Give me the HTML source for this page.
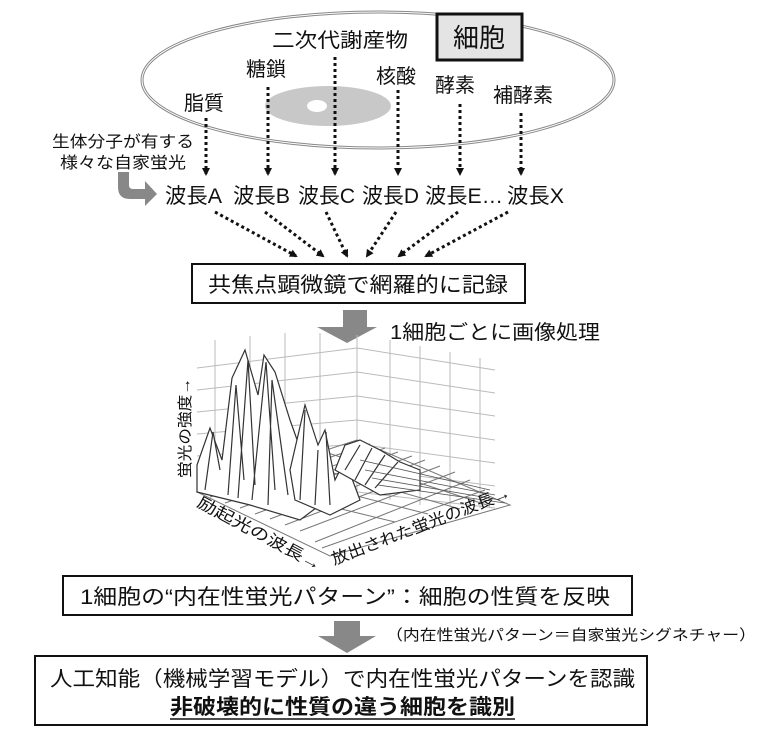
<!DOCTYPE html>
<html><head><meta charset="utf-8"><style>
html,body{margin:0;padding:0;background:#fff}
svg{display:block}
text{font-family:"Liberation Sans","Noto Sans CJK JP",sans-serif;fill:#111}
</style></head><body>
<svg width="773" height="740" viewBox="0 0 773 740" xmlns="http://www.w3.org/2000/svg">
<defs>
<marker id="ah" markerWidth="8" markerHeight="8" refX="6" refY="4" orient="auto" markerUnits="userSpaceOnUse"><path d="M0,0 L8,4 L0,8 Z" fill="#111"/></marker>
</defs>
<ellipse cx="378" cy="80" rx="236" ry="68" fill="none" stroke="#888" stroke-width="3"/>
<ellipse cx="378" cy="80" rx="236" ry="68" fill="none" stroke="#fff" stroke-width="1"/>
<ellipse cx="328" cy="106" rx="63" ry="20" fill="#c8c8c8"/>
<ellipse cx="317" cy="106" rx="10" ry="6" fill="#fff"/>
<rect x="437" y="14" width="85" height="46" fill="#e4e4e4" stroke="#111" stroke-width="3"/>
<text x="479" y="47" font-size="26" text-anchor="middle">細胞</text>
<text x="272" y="47" font-size="20" textLength="136" lengthAdjust="spacingAndGlyphs">二次代謝産物</text>
<text x="246" y="76" font-size="20">糖鎖</text>
<text x="376" y="83" font-size="20">核酸</text>
<text x="435" y="92" font-size="20">酵素</text>
<text x="493" y="102" font-size="20">補酵素</text>
<text x="184" y="110" font-size="20">脂質</text>
<g stroke="#111" stroke-width="3" stroke-dasharray="3,3" marker-end="url(#ah)">
<line x1="206" y1="118" x2="206" y2="174"/>
<line x1="268" y1="87" x2="268" y2="174"/>
<line x1="335" y1="57" x2="335" y2="174"/>
<line x1="398" y1="90" x2="398" y2="174"/>
<line x1="460" y1="104" x2="460" y2="174"/>
<line x1="521" y1="113" x2="521" y2="174"/>
</g>
<text x="52" y="147" font-size="16" textLength="142" lengthAdjust="spacingAndGlyphs">生体分子が有する</text>
<text x="60" y="168" font-size="16" textLength="126" lengthAdjust="spacingAndGlyphs">様々な自家蛍光</text>
<path d="M118,172 L129,172 L129,185 Q129,189 133,189 L145,189 L145,181 L157,194 L145,206 L145,199 L130,199 Q118,199 118,187 Z" fill="#888"/>
<g font-size="21">
<text x="165" y="203" textLength="57" lengthAdjust="spacingAndGlyphs">波長A</text>
<text x="233" y="203" textLength="57" lengthAdjust="spacingAndGlyphs">波長B</text>
<text x="298" y="203" textLength="57" lengthAdjust="spacingAndGlyphs">波長C</text>
<text x="362" y="203" textLength="57" lengthAdjust="spacingAndGlyphs">波長D</text>
<text x="425" y="203" textLength="78" lengthAdjust="spacingAndGlyphs">波長E…</text>
<text x="507" y="203" textLength="57" lengthAdjust="spacingAndGlyphs">波長X</text>
</g>
<g stroke="#111" stroke-width="3" stroke-dasharray="3,3" marker-end="url(#ah)">
<line x1="215" y1="212" x2="296" y2="256"/>
<line x1="265" y1="212" x2="323" y2="256"/>
<line x1="326" y1="212" x2="347" y2="256"/>
<line x1="396" y1="212" x2="367" y2="256"/>
<line x1="458" y1="212" x2="399" y2="256"/>
<line x1="508" y1="212" x2="426" y2="256"/>
</g>
<rect x="192" y="264" width="333" height="39" fill="#fff" stroke="#111" stroke-width="2"/>
<text x="358" y="292" font-size="21" text-anchor="middle" textLength="300" lengthAdjust="spacingAndGlyphs">共焦点顕微鏡で網羅的に記録</text>
<path d="M343,310 L367,310 L367,327 L377,327 L347,343 L317,327 L343,327 Z" fill="#888"/>
<text x="390" y="339" font-size="20" textLength="210" lengthAdjust="spacingAndGlyphs">1細胞ごとに画像処理</text>
<g stroke="#bbb" stroke-width="1" fill="none">
<path d="M197,368 L357,348 M197,390 L357,372 M197,412 L357,396 M197,434 L357,420 M197,456 L357,444 M197,478 L357,468"/>
<path d="M357,348 L495,370 M357,372 L495,393 M357,396 L495,416 M357,420 L495,440 M357,444 L495,463 M357,468 L495,486 M357,492 L495,508"/>
<path d="M215,340 L215,490 M250,336 L250,480 M285,333 L285,470 M320,333 L320,460 M357,335 L357,495 M390,340 L390,500 M420,346 L420,505 M450,352 L450,506 M480,358 L480,508"/>
</g>
<g stroke="#777" stroke-width="1" fill="none">
<path d="M197,492 L357,440 L510,505 L330,556 Z"/>
<path d="M210,497 L370,444 M225,503 L385,448 M240,508 L398,452 M255,514 L412,456 M270,519 L425,460 M285,525 L440,466 M300,531 L455,472 M315,542 L470,480 M322,548 L485,490"/>
<path d="M230,482 L395,522 M262,472 L428,514 M295,462 L460,509 M325,452 L490,506"/>
</g>
<g stroke="#333" stroke-width="1.2" fill="#fff">
<path d="M197,465 L210,428 L222,460 L232,378 L245,350 L258,395 L264,355 L275,372 L290,420 L300,448 L312,480 L320,505 L300,520 L250,505 L197,492 Z"/>
<path d="M205,490 L213,432 L220,470 M228,495 L236,385 L244,480 M238,498 L248,360 L255,485 M252,500 L266,362 L275,490 M268,505 L272,380 L288,495"/>
<path d="M290,470 L305,405 L318,445 L325,430 L335,480 L345,460 L360,500 L330,515 L295,500 Z"/>
<path d="M300,500 L305,410 M315,505 L318,450 M330,505 L326,432"/>
<path d="M335,470 L345,445 L360,440 L380,450 L400,462 L420,470 L420,490 L380,495 Z"/>
<path d="M345,470 L360,445 M355,480 L372,448 M365,485 L385,455 M375,488 L398,462"/>
</g>
<g stroke="#555" stroke-width="0.8" fill="none">
<path d="M360,460 L490,490 M365,470 L495,495 M372,478 L500,500 M378,485 L505,503"/>
</g>
<text font-size="15" transform="translate(190,478) rotate(-90)" textLength="100" lengthAdjust="spacingAndGlyphs">蛍光の強度→</text>
<text font-size="16" transform="translate(196,506) rotate(28)" textLength="138" lengthAdjust="spacingAndGlyphs">励起光の波長→</text>
<text font-size="16" transform="translate(334,565) rotate(-21)" textLength="190" lengthAdjust="spacingAndGlyphs">放出された蛍光の波長→</text>
<rect x="63" y="576" width="569" height="39" fill="#fff" stroke="#111" stroke-width="2"/>
<text x="80" y="604" font-size="21" textLength="530" lengthAdjust="spacingAndGlyphs">1細胞の“内在性蛍光パターン”：細胞の性質を反映</text>
<path d="M334,621 L360,621 L360,636 L376,636 L347,653 L318,636 L334,636 Z" fill="#888"/>
<text x="386" y="640" font-size="15" textLength="370" lengthAdjust="spacingAndGlyphs">（内在性蛍光パターン＝自家蛍光シグネチャー）</text>
<rect x="35" y="656" width="612" height="69" fill="#fff" stroke="#111" stroke-width="2"/>
<text x="50" y="686" font-size="21" textLength="585" lengthAdjust="spacingAndGlyphs">人工知能（機械学習モデル）で内在性蛍光パターンを認識</text>
<text x="170" y="714" font-size="21" font-weight="bold" textLength="345" lengthAdjust="spacingAndGlyphs">非破壊的に性質の違う細胞を識別</text>
<line x1="170" y1="719" x2="515" y2="719" stroke="#111" stroke-width="1.5"/>
</svg>
</body></html>
